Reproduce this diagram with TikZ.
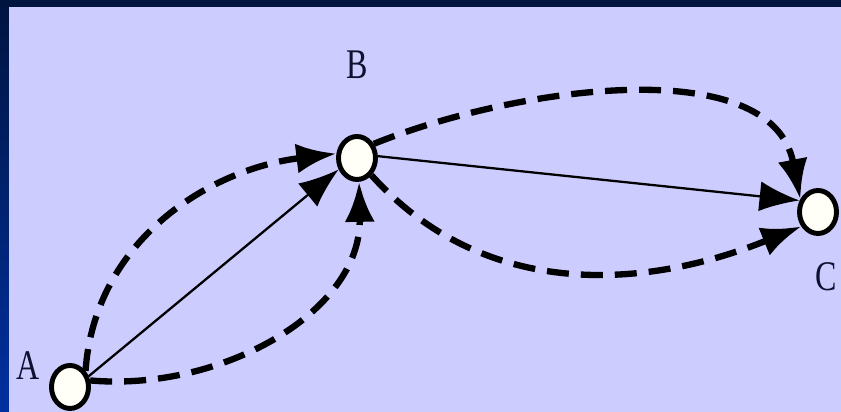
\documentclass[tikz,border=0pt]{standalone}
\usepackage{fontspec}
\setmainfont{Liberation Serif}
\usepackage{tikz}
\usetikzlibrary{arrows.meta}
\usetikzlibrary{shapes.geometric}
\definecolor{lavender}{RGB}{204,204,255}
\definecolor{navytop}{RGB}{0,20,64}
\definecolor{navybot}{RGB}{0,48,160}
\definecolor{inkdark}{RGB}{16,16,48}

\begin{document}
\begin{tikzpicture}[
    vertex/.style = {draw=black, fill=white!97!yellow, ellipse, line width=2.8pt, minimum width=0.74cm, minimum height=0.86cm, inner sep=0pt},
    vlabel/.style = {text=inkdark, font=\fontsize{24}{24}\selectfont, xscale=0.76, inner sep=0pt},
    plainarc/.style = {line width=1.3pt, -{Latex[length=0.8cm,width=0.6cm]}},
    dasharc/.style = {line width=3.6pt, dash pattern=on 0.44cm off 0.24cm, -{Latex[length=0.8cm,width=0.6cm]}}]
    \useasboundingbox (0,0) rectangle (16.82,8.24);
    \fill[lavender] (0,0) rectangle (16.82,8.24);
    \shade[top color=navytop, bottom color=navybot] (0,0) rectangle (0.18,8.24);
    \fill[navytop] (0,8.10) rectangle (16.82,8.24);
    \node[vertex] (A) at (1.40,0.50) {};
    \node[vertex] (B) at (7.14,5.08) {};
    \node[vertex] (C) at (16.36,4.00) {};
    \node[vlabel] (labA) at (0.56,0.92) {A};
    \node[vlabel] (labB) at (7.14,6.94) {B};
    \node[vlabel] (labC) at (16.52,2.70) {C};
    \draw[plainarc] (A.30) -- (B.212);
    \draw[dasharc] (A.46) to[out=86, in=187] (B.168);
    \draw[dasharc] (A.18) to[out=-5, in=271] (B.275);
    \draw[plainarc] (B.5) -- (C.148);
    \draw[dasharc] (B.40) to[out=22, in=101, looseness=0.9] (C.144);
    \draw[dasharc] (B.-50) to[out=-48, in=202] (C.221);
\end{tikzpicture}
\end{document}
